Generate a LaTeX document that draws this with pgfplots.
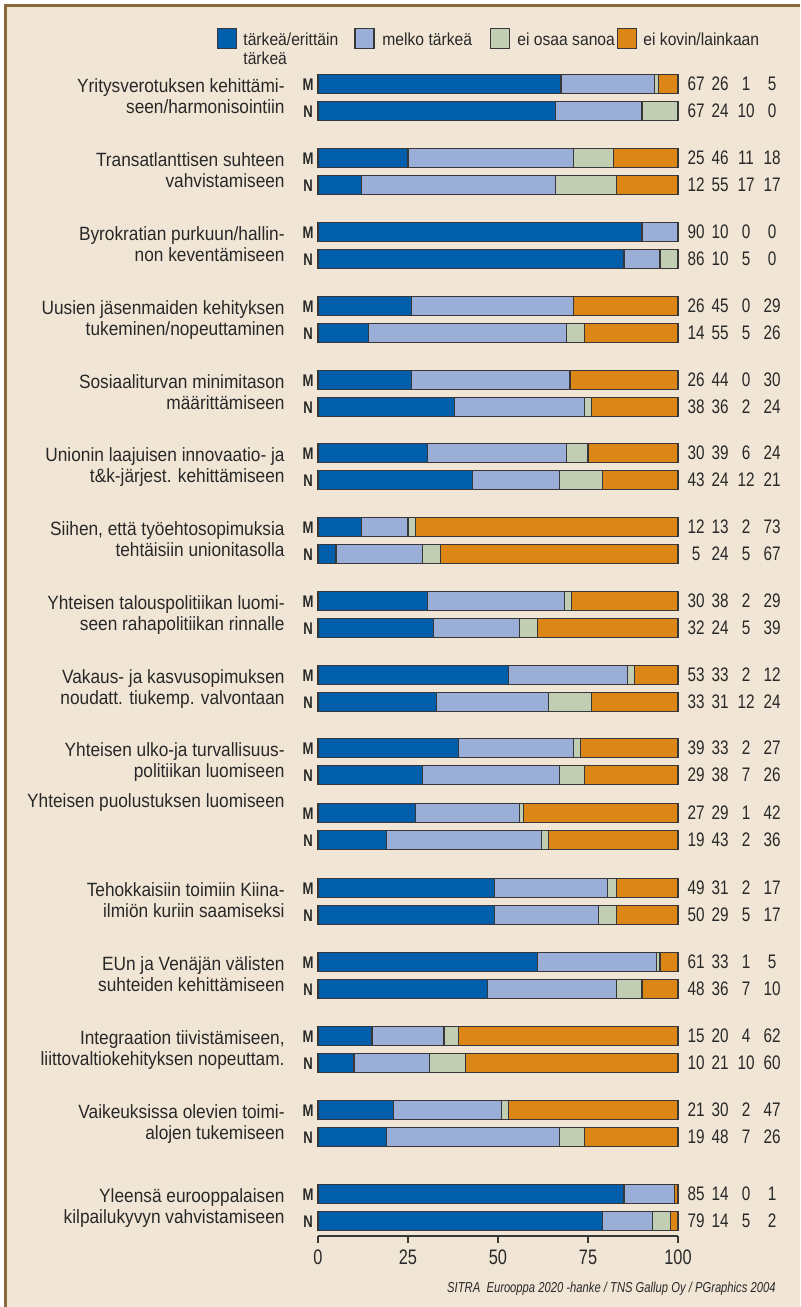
\documentclass[border=0pt]{standalone}
\usepackage{pgfplots}
\pgfplotsset{compat=1.18}
\usepackage{pgfplotstable}
\usepackage{fontspec}
\setmainfont{Liberation Sans}[FakeStretch=0.9]
\newfontfamily\condfont{Liberation Sans}[FakeStretch=0.78]

\definecolor{cblue}{RGB}{0,94,170}
\definecolor{clblue}{RGB}{154,174,216}
\definecolor{cgreen}{RGB}{194,206,180}
\definecolor{corange}{RGB}{221,134,24}
\definecolor{bg}{RGB}{241,230,213}
\definecolor{framec}{RGB}{140,105,60}
\definecolor{txt}{RGB}{40,40,40}
\definecolor{outl}{RGB}{55,55,55}

% y = -(pixel row of bar centre); a..d = segment lengths (%)
\pgfplotstableread{
y a b c d
-84 67.5 26 1 5.5
-111 66 24 10 0
-158 25 46 11 18
-185 12 54 17 17
-232 90 10 0 0
-259 85 10 5 0
-306 26 45 0 29
-333 14 55 5 26
-380 26 44 0 30
-407 38 36 2 24
-453 30.5 38.5 6 25
-480 43 24 12 21
-527 12 13 2 73
-554 5 24 5 66
-601 30.5 38 2 29.5
-628 32 24 5 39
-675 53 33 2 12
-702 33 31 12 24
-748 39 32 2 27
-775 29 38 7 26
-813 27 29 1 43
-840 19 43 2 36
-888 49 31.5 2.5 17
-915 49 29 5 17
-962 61 33 1 5
-989 47 36 7 10
-1036 15 20 4 61
-1063 10 21 10 59
-1110 21 30 2 47
-1137 19 48 7 26
-1194 85 14 0 1
-1221 79 14 5 2
}\bars

\tikzset{
  lbl/.style={anchor=base east, inner sep=0pt, font=\fontsize{9.6}{11}\selectfont, text=txt},
  num/.style={anchor=base, inner sep=0pt, font=\condfont\fontsize{9.8}{11}\selectfont, text=txt},
  mnl/.style={anchor=base, inner sep=0pt, font=\condfont\bfseries\fontsize{8.4}{9}\selectfont, text=txt},
  leg/.style={anchor=base west, inner sep=0pt, font=\fontsize{8.7}{10}\selectfont, text=txt},
}
\newcommand\lab[3]{%
  \node[lbl] at (285,#1+8) {#2};
  \node[lbl] at (285,#1+29.5) {#3};}
\newcommand\nums[5]{%
  \node[num] at (696,#1+6.5) {#2};
  \node[num] at (720,#1+6.5) {#3};
  \node[num] at (746,#1+6.5) {#4};
  \node[num] at (772,#1+6.5) {#5};}
\newcommand\mn[1]{%
  \node[mnl] at (308,#1+6) {M};
  \node[mnl] at (308,#1+33) {N};}

\begin{document}
\begin{tikzpicture}
\begin{scope}[x=0.5pt,y=-0.5pt]
\useasboundingbox (0,0) rectangle (800,1307);
\fill[white] (0,0) rectangle (800,1307);
\fill[bg] (5.5,5.5) rectangle (800,1307);
\draw[framec, line width=1.1pt] (5.5,1307) -- (5.5,5.5) -- (800,5.5);

% legend
\draw[fill=cblue, draw=outl, line width=0.6pt] (217.5,28.5) rectangle (236.5,48.5);
\draw[fill=clblue, draw=outl, line width=0.6pt] (355,28.5) rectangle (374,48.5);
\draw[fill=cgreen, draw=outl, line width=0.6pt] (490.5,28.5) rectangle (509.5,48.5);
\draw[fill=corange, draw=outl, line width=0.6pt] (617.5,28.5) rectangle (636.5,48.5);
\node[leg] at (243,45) {tärkeä/erittäin};
\node[leg] at (243,64) {tärkeä};
\node[leg] at (382,45) {melko tärkeä};
\node[leg] at (517,45) {ei osaa sanoa};
\node[leg] at (643,45) {ei kovin/lainkaan};
\end{scope}

\begin{axis}[
  at={(159pt,-618pt)}, anchor=south west,
  scale only axis, width=180pt, height=588pt,
  xmin=0, xmax=100, ymin=-1236, ymax=-60,
  xbar stacked, bar width=9.75pt,
  axis x line*=bottom, axis y line*=left,
  y axis line style={draw=none}, ytick=\empty,
  x axis line style={outl, line width=0.7pt},
  xtick={0,25,50,75,100}, tick align=outside, major tick length=3.5pt,
  xtick style={outl, line width=0.6pt},
  /pgf/number format/assume math mode=true,
  xticklabel style={font=\condfont\fontsize{10.5}{12}\selectfont, text=txt},
  clip=false,
]
\addplot[fill=cblue, draw=outl, line width=0.65pt] table[x=a,y=y]{\bars};
\addplot[fill=clblue, draw=outl, line width=0.65pt] table[x=b,y=y]{\bars};
\addplot[fill=cgreen, draw=outl, line width=0.65pt] table[x=c,y=y]{\bars};
\addplot[fill=corange, draw=outl, line width=0.65pt] table[x=d,y=y]{\bars};
\end{axis}

\begin{scope}[x=0.5pt,y=-0.5pt]
% category labels
\lab{84}{Yritysverotuksen kehittämi-}{seen/harmonisointiin}
\lab{158}{Transatlanttisen suhteen}{vahvistamiseen}
\lab{232}{Byrokratian purkuun/hallin-}{non keventämiseen}
\lab{306}{Uusien jäsenmaiden kehityksen}{tukeminen/nopeuttaminen}
\lab{380}{Sosiaaliturvan minimitason}{määrittämiseen}
\lab{453}{Unionin laajuisen innovaatio- ja}{t\&k-järjest. kehittämiseen}
\lab{527}{Siihen, että työehtosopimuksia}{tehtäisiin unionitasolla}
\lab{601}{Yhteisen talouspolitiikan luomi-}{seen rahapolitiikan rinnalle}
\lab{675}{Vakaus- ja kasvusopimuksen}{noudatt. tiukemp. valvontaan}
\lab{748}{Yhteisen ulko-ja turvallisuus-}{politiikan luomiseen}
\node[lbl] at (285,807) {Yhteisen puolustuksen luomiseen};
\lab{888}{Tehokkaisiin toimiin Kiina-}{ilmiön kuriin saamiseksi}
\lab{962}{EUn ja Venäjän välisten}{suhteiden kehittämiseen}
\lab{1036}{Integraation tiivistämiseen,}{liittovaltiokehityksen nopeuttam.}
\lab{1110}{Vaikeuksissa olevien toimi-}{alojen tukemiseen}
\lab{1194}{Yleensä eurooppalaisen}{kilpailukyvyn vahvistamiseen}

% M / N
\foreach \yy in {84,158,232,306,380,453,527,601,675,748,813,888,962,1036,1110,1194}{\mn{\yy}}

% printed values
\nums{84}{67}{26}{1}{5}
\nums{111}{67}{24}{10}{0}
\nums{158}{25}{46}{11}{18}
\nums{185}{12}{55}{17}{17}
\nums{232}{90}{10}{0}{0}
\nums{259}{86}{10}{5}{0}
\nums{306}{26}{45}{0}{29}
\nums{333}{14}{55}{5}{26}
\nums{380}{26}{44}{0}{30}
\nums{407}{38}{36}{2}{24}
\nums{453}{30}{39}{6}{24}
\nums{480}{43}{24}{12}{21}
\nums{527}{12}{13}{2}{73}
\nums{554}{5}{24}{5}{67}
\nums{601}{30}{38}{2}{29}
\nums{628}{32}{24}{5}{39}
\nums{675}{53}{33}{2}{12}
\nums{702}{33}{31}{12}{24}
\nums{748}{39}{33}{2}{27}
\nums{775}{29}{38}{7}{26}
\nums{813}{27}{29}{1}{42}
\nums{840}{19}{43}{2}{36}
\nums{888}{49}{31}{2}{17}
\nums{915}{50}{29}{5}{17}
\nums{962}{61}{33}{1}{5}
\nums{989}{48}{36}{7}{10}
\nums{1036}{15}{20}{4}{62}
\nums{1063}{10}{21}{10}{60}
\nums{1110}{21}{30}{2}{47}
\nums{1137}{19}{48}{7}{26}
\nums{1194}{85}{14}{0}{1}
\nums{1221}{79}{14}{5}{2}

% source
\node[anchor=base east, inner sep=0pt, font=\condfont\itshape\fontsize{7.2}{9}\selectfont, text=txt] at (776,1292) {SITRA\ \ Eurooppa 2020 -hanke / TNS Gallup Oy / PGraphics 2004};
\end{scope}
\end{tikzpicture}
\end{document}
